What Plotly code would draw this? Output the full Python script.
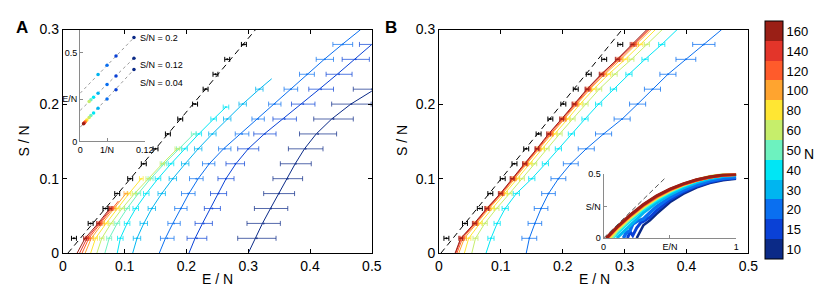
import plotly.graph_objects as go

W, H = 830, 292
FONT = "Liberation Sans, Arial, Helvetica, sans-serif"

# ---------------- data ----------------
N_VALUES = [10, 15, 20, 30, 40, 50, 60, 80, 100, 120, 140, 160]
N_COLORS = ["#0b2a87", "#0a41d6", "#0a6ff0", "#00b5f0", "#00e6f5", "#6df2bf",
            "#c6ee6b", "#ffe633", "#ffa42f", "#ff5b2b", "#e3352a", "#9a1f16"]
N_LABELS = ["10", "15", "20", "30", "40", "50", "60", "80", "100", "120", "140", "160"]

S_GRID = [0.00, 0.02, 0.04, 0.06, 0.08, 0.10, 0.12, 0.14, 0.16, 0.18,
          0.20, 0.22, 0.24, 0.26, 0.28, 0.30]

# Panel A : black reference points and dashed line
A_BLACK_E = [0.018, 0.045, 0.069, 0.088, 0.109, 0.131, 0.150, 0.170, 0.190,
             0.214, 0.231, 0.247, 0.266, 0.293]
A_BLACK_HW = 0.004
A_DASH_E = [0.008, 0.312]
A_DASH_S = [0.0, 0.3]

# Panel A : curves (E/N along S/N)
A_E_N10 = [0.300, 0.311, 0.323, 0.336, 0.349, 0.362, 0.376, 0.391, 0.410, 0.435, 0.466, 0.505]
A_E_N15 = [0.204, 0.214, 0.226, 0.239, 0.251, 0.264, 0.280, 0.300, 0.326, 0.356, 0.386,
           0.415, 0.444, 0.472, 0.500]
A_E_N20 = [0.156, 0.166, 0.178, 0.191, 0.204, 0.219, 0.237, 0.260, 0.287, 0.315, 0.342,
           0.368, 0.395, 0.423, 0.452, 0.482]
A_E_N30 = [0.113, 0.120, 0.131, 0.144, 0.160, 0.178, 0.198, 0.219, 0.242, 0.266, 0.291, 0.318, 0.338]
A_S_N30 = [0.00, 0.02, 0.04, 0.06, 0.08, 0.10, 0.12, 0.14, 0.16, 0.18, 0.20, 0.22, 0.234]
A_E_N40 = [0.088, 0.093, 0.104, 0.118, 0.135, 0.154, 0.175, 0.197, 0.220, 0.244, 0.264]
A_S_N40 = [0.00, 0.02, 0.04, 0.06, 0.08, 0.10, 0.12, 0.14, 0.16, 0.18, 0.196]
A_E_N50 = [0.068, 0.075, 0.088, 0.104, 0.122, 0.142, 0.164, 0.188, 0.212]
A_E_N60 = [0.055, 0.063, 0.078, 0.096, 0.116, 0.138, 0.161, 0.185]
A_E_N80 = [0.045, 0.053, 0.070, 0.088, 0.107, 0.127]
A_E_N100 = [0.036, 0.046, 0.064, 0.083, 0.102]
A_E_N120 = [0.031, 0.042, 0.061, 0.080, 0.090]
A_S_N120 = [0.00, 0.02, 0.04, 0.06, 0.07]
A_E_N140 = [0.027, 0.039, 0.059, 0.078]
A_E_N160 = [0.023, 0.036, 0.057, 0.076]

# Panel A : error bars (centres and half widths)
A_BAR_N10 = [0.314, 0.325, 0.337, 0.350, 0.364, 0.377, 0.393, 0.413, 0.438, 0.467, 0.500]
A_HW_N10 = [0.031, 0.027, 0.027, 0.025, 0.024, 0.025, 0.028, 0.030, 0.032, 0.032, 0.030]
A_BAR_N15 = [0.217, 0.228, 0.242, 0.252, 0.264, 0.279, 0.300, 0.327, 0.359, 0.389, 0.418,
             0.447, 0.474, 0.502]
A_HW_N15 = [0.016, 0.014, 0.013, 0.013, 0.013, 0.015, 0.017, 0.018, 0.019, 0.019, 0.020,
            0.021, 0.022, 0.022]
A_BAR_N20 = [0.169, 0.180, 0.191, 0.203, 0.216, 0.236, 0.262, 0.290, 0.316, 0.343, 0.369,
             0.395, 0.424, 0.453]
A_HW_N20 = [0.011, 0.010, 0.010, 0.011, 0.011, 0.010, 0.010, 0.011, 0.010, 0.010, 0.011,
            0.012, 0.014, 0.016]
A_HW_SMALL = [0.006, 0.0045, 0.004, 0.0035, 0.003, 0.003, 0.0025, 0.0025, 0.0025]  # N = 30..160

# Panel B
B_BLACK_E = [0.012, 0.042, 0.066, 0.083, 0.103, 0.122, 0.141, 0.161, 0.180, 0.201,
             0.221, 0.242, 0.267, 0.293]
B_DASH_E = [0.003, 0.296]
B_DASH_S = [0.0, 0.3]
B_N = [20, 40, 60, 80, 100, 120, 140, 160]
B_E_N20 = [0.141, 0.146, 0.155, 0.165, 0.177, 0.193, 0.213, 0.238, 0.266, 0.296, 0.321,
           0.345, 0.370, 0.399, 0.428, 0.457]
B_E_N40 = [0.076, 0.084, 0.094, 0.107, 0.125, 0.150, 0.172, 0.193, 0.214, 0.236, 0.258,
           0.282, 0.307, 0.333, 0.360, 0.385]
B_E_N60 = [0.053, 0.059, 0.074, 0.093, 0.114, 0.134, 0.154, 0.174, 0.195, 0.216, 0.237,
           0.259, 0.284, 0.311, 0.336, 0.361]
B_E_N80 = [0.041, 0.048, 0.066, 0.086, 0.107, 0.127, 0.147, 0.167, 0.187, 0.208, 0.228,
           0.250, 0.274, 0.301, 0.326, 0.350]
B_E_N100 = [0.032, 0.041, 0.061, 0.081, 0.103, 0.122, 0.142, 0.162, 0.182, 0.203, 0.223,
            0.244, 0.268, 0.294, 0.319, 0.343]
B_E_N120 = [0.029, 0.038, 0.059, 0.079, 0.101, 0.120, 0.140, 0.160, 0.180, 0.201, 0.221,
            0.242, 0.265, 0.291, 0.316, 0.340]
B_E_N140 = [0.027, 0.036, 0.058, 0.078, 0.100, 0.119, 0.139, 0.159, 0.178, 0.199, 0.219,
            0.240, 0.263, 0.289, 0.314, 0.338]
B_E_N160 = [0.026, 0.035, 0.057, 0.077, 0.099, 0.118, 0.138, 0.158, 0.177, 0.198, 0.218,
            0.239, 0.262, 0.288, 0.312, 0.336]
B_HW_N20 = [0.012, 0.011, 0.011, 0.011, 0.012, 0.012, 0.013, 0.013, 0.013, 0.013, 0.013,
            0.013, 0.016, 0.018]
B_HW_SMALL = [0.005, 0.004, 0.0035, 0.003, 0.003, 0.003, 0.003]  # N = 40..160

# Inset A : E/N against 1/N at three entropy levels
IA_INV_N = [0.1, 0.0667, 0.05, 0.0333, 0.025, 0.02, 0.0167, 0.0125, 0.01, 0.0083, 0.0071, 0.0063]
IA_TOP_Y = [0.586, 0.482, 0.430, 0.378]
IA_MID_Y = [0.470, 0.370, 0.322, 0.272, 0.249, 0.235, 0.225]
IA_BOT_Y = [0.406, 0.292, 0.240, 0.188, 0.161, 0.146, 0.135, 0.121, 0.113, 0.107, 0.103, 0.100]
IA_FIT_X = [0.0, 0.1]
IA_FIT_TOP = [0.272, 0.586]
IA_FIT_MID = [0.175, 0.470]
IA_FIT_BOT = [0.080, 0.406]
IA_LABELS = ["S/N = 0.2", "S/N = 0.12", "S/N = 0.04"]
IA_LABEL_Y = [0.584, 0.432, 0.331]

# Inset B : full S/N against E/N curves
IB_E_HI = [0.1, 0.2, 0.3, 0.4, 0.5, 0.6, 0.7, 0.8, 0.9, 1.0]
IB_START = {160: 0.020, 140: 0.022, 120: 0.026, 100: 0.030, 80: 0.040, 60: 0.050, 50: 0.065}
IB_S_N160 = [0.085, 0.180, 0.262, 0.330, 0.383, 0.424, 0.456, 0.478, 0.492, 0.498]
IB_S_N140 = [0.083, 0.177, 0.259, 0.327, 0.381, 0.422, 0.454, 0.477, 0.491, 0.497]
IB_S_N120 = [0.080, 0.174, 0.256, 0.324, 0.378, 0.420, 0.452, 0.475, 0.490, 0.497]
IB_S_N100 = [0.077, 0.170, 0.252, 0.320, 0.375, 0.418, 0.451, 0.475, 0.490, 0.497]
IB_S_N80 = [0.070, 0.164, 0.247, 0.316, 0.372, 0.416, 0.451, 0.477, 0.493, 0.499]
IB_S_N60 = [0.062, 0.157, 0.241, 0.312, 0.369, 0.416, 0.454, 0.481, 0.497, 0.502]
IB_S_N50 = [0.050, 0.148, 0.234, 0.305, 0.363, 0.411, 0.450, 0.478, 0.494, 0.500]
IB_E_N40 = [0.07, 0.1, 0.2, 0.3, 0.4, 0.5, 0.6, 0.7, 0.8, 0.9, 1.0]
IB_S_N40 = [0.0, 0.035, 0.135, 0.222, 0.295, 0.355, 0.404, 0.443, 0.472, 0.489, 0.496]
IB_E_N30 = [0.1, 0.15, 0.2, 0.3, 0.4, 0.5, 0.6, 0.7, 0.8, 0.9, 1.0]
IB_S_N30 = [0.0, 0.05, 0.105, 0.197, 0.275, 0.338, 0.390, 0.431, 0.462, 0.481, 0.489]
IB_E_N20 = [0.15, 0.17, 0.2, 0.22, 0.25, 0.3, 0.35, 0.4, 0.5, 0.6, 0.7, 0.8, 0.9, 1.0]
IB_S_N20 = [0.0, 0.04, 0.06, 0.11, 0.13, 0.15, 0.20, 0.245, 0.318, 0.373, 0.415, 0.447, 0.467, 0.476]
IB_E_N15 = [0.18, 0.2, 0.22, 0.25, 0.28, 0.3, 0.35, 0.4, 0.5, 0.6, 0.7, 0.8, 0.9, 1.0]
IB_S_N15 = [0.0, 0.05, 0.02, 0.08, 0.12, 0.13, 0.165, 0.215, 0.300, 0.360, 0.405, 0.438, 0.459, 0.469]
IB_E_N10 = [0.25, 0.3, 0.35, 0.4, 0.5, 0.6, 0.7, 0.8, 0.9, 1.0]
IB_S_N10 = [0.0, 0.10, 0.14, 0.19, 0.28, 0.345, 0.395, 0.430, 0.452, 0.463]
IB_DASH_E = [0.0, 0.47]
IB_DASH_S = [0.0, 0.475]

# ---------------- helpers ----------------
COLOR = dict(zip(N_VALUES, N_COLORS))


def rgba(hexc, a):
    h = hexc.lstrip("#")
    return "rgba(%d,%d,%d,%.2f)" % (int(h[0:2], 16), int(h[2:4], 16), int(h[4:6], 16), a)


def fx(px):
    return px / W


def fy(py):
    return 1 - py / H


fig = go.Figure()


def add_line(x, y, color, ax, width=1.0, dash=None, opacity=1.0):
    fig.add_trace(go.Scatter(x=x, y=y, mode="lines", xaxis="x" + ax, yaxis="y" + ax,
                             line=dict(color=color, width=width, dash=dash),
                             opacity=opacity, hoverinfo="skip", showlegend=False))


def add_bars(x, y, hw, color, ax, cap=2.5):
    err = dict(type="data", array=hw, visible=True) if isinstance(hw, list) else \
        dict(type="constant", value=hw, visible=True)
    err.update(color=color, thickness=1, width=cap)
    fig.add_trace(go.Scatter(x=x, y=y, mode="markers", xaxis="x" + ax, yaxis="y" + ax,
                             marker=dict(size=2, color=color), error_x=err,
                             hoverinfo="skip", showlegend=False))


# ---------------- panel A ----------------
A_CURVES = {
    10: (A_E_N10, S_GRID), 15: (A_E_N15, S_GRID), 20: (A_E_N20, S_GRID),
    30: (A_E_N30, A_S_N30), 40: (A_E_N40, A_S_N40), 50: (A_E_N50, S_GRID),
    60: (A_E_N60, S_GRID), 80: (A_E_N80, S_GRID), 100: (A_E_N100, S_GRID),
    120: (A_E_N120, A_S_N120), 140: (A_E_N140, S_GRID), 160: (A_E_N160, S_GRID),
}
add_line(A_DASH_E, A_DASH_S, "black", "", dash="6px,4px")
for N in N_VALUES:
    e, s = A_CURVES[N]
    add_line(e, s[:len(e)], COLOR[N], "")
for N in N_VALUES:
    e, s = A_CURVES[N]
    bar_s = [v for v in s[1:len(e)] if round(v * 100) % 2 == 0]
    if N == 10:
        add_bars(A_BAR_N10, S_GRID[1:1 + len(A_BAR_N10)], A_HW_N10, rgba(COLOR[N], 0.7), "")
    elif N == 15:
        add_bars(A_BAR_N15, S_GRID[1:1 + len(A_BAR_N15)], A_HW_N15, rgba(COLOR[N], 0.7), "")
    elif N == 20:
        add_bars(A_BAR_N20, S_GRID[1:1 + len(A_BAR_N20)], A_HW_N20, rgba(COLOR[N], 0.7), "")
    else:
        hw = A_HW_SMALL[N_VALUES.index(N) - 3]
        add_bars(e[1:1 + len(bar_s)], bar_s, hw, rgba(COLOR[N], 0.75), "")
add_bars(A_BLACK_E, S_GRID[1:15], A_BLACK_HW, "black", "")

# ---------------- panel B ----------------
B_CURVES = {20: B_E_N20, 40: B_E_N40, 60: B_E_N60, 80: B_E_N80,
            100: B_E_N100, 120: B_E_N120, 140: B_E_N140, 160: B_E_N160}
add_line(B_DASH_E, B_DASH_S, "black", "2", dash="6px,4px")
for N in B_N:
    add_line(B_CURVES[N], S_GRID, COLOR[N], "2")
for N in B_N:
    e = B_CURVES[N]
    if N == 20:
        add_bars(e[1:15], S_GRID[1:15], B_HW_N20, rgba(COLOR[N], 0.75), "2")
    else:
        add_bars(e[1:15], S_GRID[1:15], B_HW_SMALL[B_N.index(N) - 1], rgba(COLOR[N], 0.8), "2")
add_bars(B_BLACK_E, S_GRID[1:15], 0.004, "black", "2")

# ---------------- inset A ----------------
for fy_ in (IA_FIT_TOP, IA_FIT_MID, IA_FIT_BOT):
    add_line(IA_FIT_X, fy_, "#9a9a9a", "3", dash="dot")
for ys in (IA_TOP_Y, IA_MID_Y, IA_BOT_Y):
    fig.add_trace(go.Scatter(x=IA_INV_N[:len(ys)], y=ys, mode="markers", xaxis="x3", yaxis="y3",
                             marker=dict(size=3.5, color=N_COLORS[:len(ys)]),
                             hoverinfo="skip", showlegend=False))

# ---------------- inset B ----------------
IB_HI = {50: IB_S_N50, 60: IB_S_N60, 80: IB_S_N80, 100: IB_S_N100,
         120: IB_S_N120, 140: IB_S_N140, 160: IB_S_N160}
add_line(IB_E_N10, IB_S_N10, COLOR[10], "4", width=2.5)
add_line(IB_E_N15, IB_S_N15, COLOR[15], "4", width=3)
add_line(IB_E_N20, IB_S_N20, COLOR[20], "4", width=3.5)
add_line(IB_E_N30, IB_S_N30, COLOR[30], "4", width=3)
add_line(IB_E_N40, IB_S_N40, COLOR[40], "4", width=3)
for N in [50, 60, 80, 100, 120, 140, 160]:
    add_line([IB_START[N]] + IB_E_HI, [0.0] + IB_HI[N], COLOR[N], "4", width=3)
add_line(IB_DASH_E, IB_DASH_S, "#555555", "4", dash="5px,3px")

# ---------------- colorbar ----------------
cs = []
for i, c in enumerate(N_COLORS):
    cs.append([i / 12, c])
    cs.append([(i + 1) / 12, c])
fig.add_trace(go.Scatter(
    x=[0.2], y=[-1], mode="markers", xaxis="x", yaxis="y", hoverinfo="skip", showlegend=False,
    marker=dict(size=1, color=[0], cmin=0, cmax=12, colorscale=cs, showscale=True,
                colorbar=dict(x=fx(766), xanchor="left", y=fy(131.7), yanchor="middle",
                              thickness=18, thicknessmode="pixels",
                              len=238, lenmode="pixels", xpad=0, ypad=0,
                              outlinewidth=1, outlinecolor="black",
                              tickmode="array", tickvals=[i + 0.5 for i in range(12)],
                              ticktext=N_LABELS, ticks="",
                              tickfont=dict(family=FONT, size=13, color="black")))))

# ---------------- axes ----------------
def main_axis(rng, vals, txt, dom, anchor):
    return dict(domain=dom, range=rng, anchor=anchor, showline=True, linecolor="black",
                linewidth=1, mirror="ticks", ticks="inside", ticklen=4, tickwidth=1,
                tickcolor="black", showgrid=False, zeroline=False, tickmode="array",
                tickvals=vals, ticktext=txt,
                tickfont=dict(family=FONT, size=14, color="black"))


def inset_axis(rng, vals, txt, dom, anchor):
    return dict(domain=dom, range=rng, anchor=anchor, showline=True, linecolor="#8a8a8a",
                linewidth=1, mirror=False, ticks="inside", ticklen=3, tickwidth=1,
                tickcolor="#8a8a8a", showgrid=False, zeroline=False, tickmode="array",
                tickvals=vals, ticktext=txt,
                tickfont=dict(family=FONT, size=9, color="black"))


XV = [0, 0.1, 0.2, 0.3, 0.4, 0.5]
XT = ["0", "0.1", "0.2", "0.3", "0.4", "0.5"]
YV = [0, 0.1, 0.2, 0.3]
YT = ["0", "0.1", "0.2", "0.3"]
YDOM = [fy(251), fy(14.3)]

annotations = [
    dict(text="<b>A</b>", x=fx(10), y=fy(12), font=dict(size=17)),
    dict(text="<b>B</b>", x=fx(386), y=fy(12), font=dict(size=17)),
    dict(text="E / N", x=fx(209), y=fy(278), font=dict(size=14)),
    dict(text="E / N", x=fx(592), y=fy(278), font=dict(size=14)),
    dict(text="S / N", x=fx(12), y=fy(132), font=dict(size=14), textangle=-90),
    dict(text="S / N", x=fx(396), y=fy(132), font=dict(size=14), textangle=-90),
    dict(text="N", x=fx(811), y=fy(146), font=dict(size=14)),
]
for i, a in enumerate(annotations):
    a.update(xref="paper", yref="paper", showarrow=False, xanchor="center", yanchor="middle")
    a["font"].update(family=FONT, color="black")
for lab, ly in zip(IA_LABELS, IA_LABEL_Y):
    annotations.append(dict(text=lab, x=0.107, y=ly, xref="x3", yref="y3", showarrow=False,
                            xanchor="left", yanchor="middle",
                            font=dict(family=FONT, size=9, color="black")))

fig.update_layout(
    width=W, height=H, margin=dict(l=0, r=0, t=0, b=0),
    paper_bgcolor="white", plot_bgcolor="rgba(0,0,0,0)",
    showlegend=False, font=dict(family=FONT, color="black"),
    xaxis=main_axis([0, 0.5], XV, XT, [fx(51.7), fx(366)], "y"),
    yaxis=main_axis([0, 0.3], YV, YT, YDOM, "x"),
    xaxis2=main_axis([0, 0.5], XV, XT, [fx(434.3), fx(749)], "y2"),
    yaxis2=main_axis([0, 0.3], YV, YT, YDOM, "x2"),
    xaxis3=inset_axis([0, 0.12], [0, 0.05, 0.12], ["0", "1/N", "0.12"],
                      [fx(69.3), fx(135)], "y3"),
    yaxis3=inset_axis([0, 0.628], [0, 0.239, 0.5], ["0", "E/N", "0.5"],
                      [fy(132.7), fy(15)], "x3"),
    xaxis4=inset_axis([0, 1], [0, 0.5, 1], ["0", "E/N", "1"],
                      [fx(601.7), fx(736.7)], "y4"),
    yaxis4=inset_axis([0, 0.504], [0, 0.246, 0.5], ["0", "S/N", "0.5"],
                      [fy(235), fy(166.7)], "x4"),
    annotations=annotations,
)

fig.write_html("out.html")
